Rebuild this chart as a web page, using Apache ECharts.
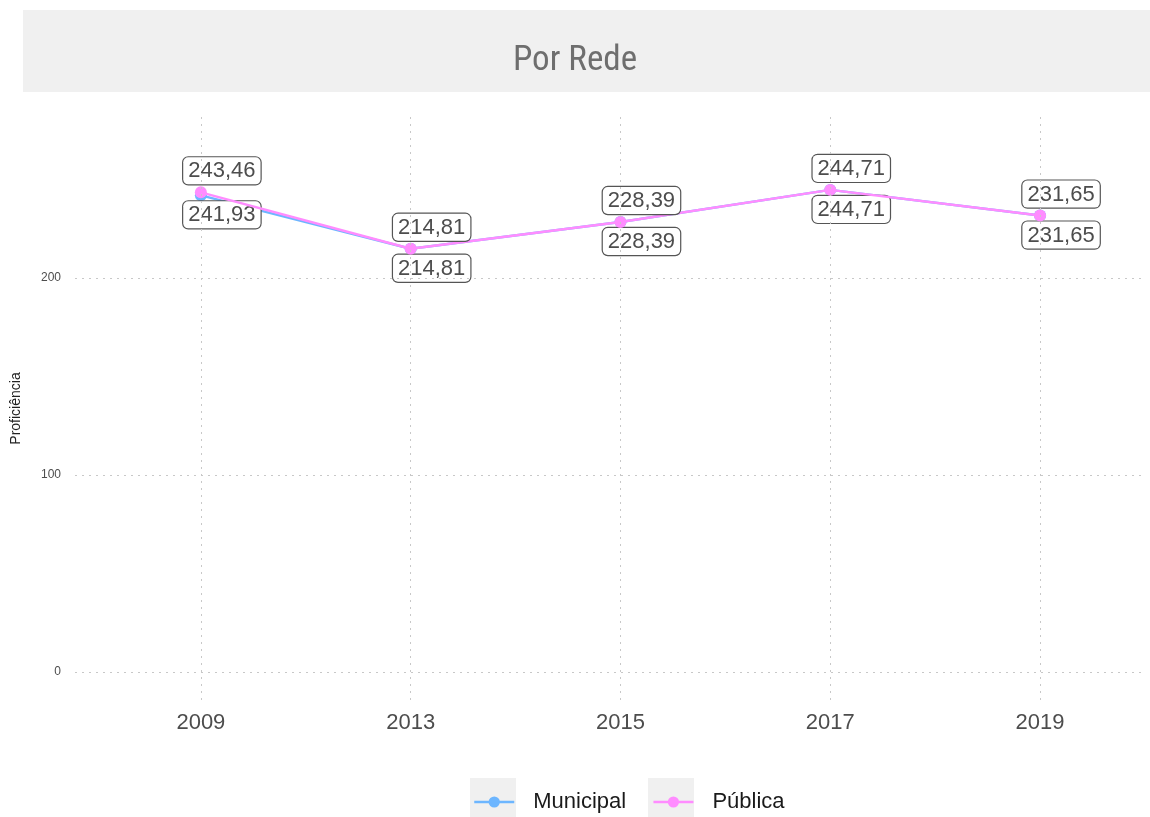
<!DOCTYPE html>
<html>
<head>
<meta charset="utf-8">
<script src="https://cdn.jsdelivr.net/npm/echarts@6/dist/echarts.min.js"></script>
<style>
html, body { margin: 0; padding: 0; background: #fff; }
#chart { width: 1150px; height: 817px; }
</style>
</head>
<body>
<div id="chart"></div>
<script>
var anos = ['2009', '2013', '2015', '2017', '2019']
var municipal = [241.93, 214.81, 228.39, 244.71, 231.65]
var publica = [243.46, 214.81, 228.39, 244.71, 231.65]
var yTicks = [0, 100, 200]

function pontos(vals)
{
    var out = []
    for (var i = 0; i < vals.length; i++)
    {
        out.push([i, vals[i]])
    }
    return out
}

function fmt(v)
{
    return v.toFixed(2).replace('.', ',')
}

var gridLine = { color: '#c8c8c8', type: [2, 5], width: 1 }

var vLines = []
for (var i = 0; i < anos.length; i++) vLines.push({ xAxis: i })
var hLines = []
for (var j = 0; j < yTicks.length; j++) hLines.push({ yAxis: yTicks[j] })

function rotulo(pos, dist)
{
    return {
        show: true,
        position: pos,
        distance: dist,
        offset: [21, 0],
        formatter: function (p) { return fmt(p.value[1]) },
        fontFamily: 'Liberation Sans, Arial, sans-serif',
        fontSize: 22,
        color: '#4d4d4d',
        backgroundColor: '#fff',
        borderColor: '#555',
        borderWidth: 1.2,
        borderRadius: 5,
        padding: [3, 5, 2, 5]
    }
}

var myChart = echarts.init(document.getElementById('chart'))
var option = {
    animation: false,
    backgroundColor: '#fff',
    title: {
        text: 'Por Rede',
        left: 'center',
        top: 39,
        textStyle: {
            fontFamily: 'Liberation Sans Narrow, Roboto Condensed, Liberation Sans, sans-serif',
            fontWeight: 'normal',
            fontSize: 35,
            color: '#6e6e6e'
        }
    },
    graphic: [
        { type: 'rect', z: -1, shape: { x: 23, y: 10, width: 1127, height: 82 }, style: { fill: '#f0f0f0' } },
        { type: 'rect', z: -1, shape: { x: 470, y: 778, width: 46, height: 39 }, style: { fill: '#f0f0f0' } },
        { type: 'rect', z: -1, shape: { x: 648, y: 778, width: 46, height: 39 }, style: { fill: '#f0f0f0' } }
    ],
    legend: {
        data: ['Municipal', 'Pública'],
        left: 468,
        top: 786,
        itemWidth: 40,
        itemHeight: 14,
        itemGap: 26,
        lineStyle: { width: 2.5 },
        textStyle: {
            fontFamily: 'Liberation Sans, Arial, sans-serif',
            fontSize: 22,
            color: '#1a1a1a',
            padding: [0, 0, 0, 14]
        }
    },
    grid: {
        left: 75,
        right: 4,
        top: 117,
        bottom: 117
    },
    xAxis: {
        type: 'value',
        min: -0.6,
        max: 4.505,
        axisLine: { show: false },
        axisTick: { show: false },
        splitLine: { show: false },
        axisLabel: {
            customValues: [0, 1, 2, 3, 4],
            formatter: function (v) { return anos[Math.round(v)] },
            margin: 12,
            fontFamily: 'Liberation Sans, Arial, sans-serif',
            fontSize: 22,
            color: '#4d4d4d'
        }
    },
    yAxis: {
        type: 'value',
        min: -14.2,
        max: 281.7,
        name: 'Proficiência',
        nameLocation: 'middle',
        nameGap: 52,
        nameTextStyle: {
            fontFamily: 'Liberation Sans, Arial, sans-serif',
            fontSize: 14,
            color: '#222'
        },
        axisLine: { show: false },
        axisTick: { show: false },
        splitLine: { show: false },
        axisLabel: {
            customValues: yTicks,
            margin: 14,
            fontFamily: 'Liberation Sans, Arial, sans-serif',
            fontSize: 12,
            color: '#4d4d4d'
        }
    },
    series: [
        {
            name: 'grade',
            type: 'line',
            data: [],
            silent: true,
            markLine: {
                silent: true,
                symbol: 'none',
                label: { show: false },
                lineStyle: gridLine,
                data: vLines.concat(hLines)
            }
        },
        {
            name: 'Municipal',
            type: 'line',
            data: pontos(municipal),
            color: '#6db6ff',
            lineStyle: { width: 2.5 },
            symbol: 'circle',
            symbolSize: 12,
            label: rotulo('bottom', 0),
            z: 3
        },
        {
            name: 'Pública',
            type: 'line',
            data: pontos(publica),
            color: '#ff8cff',
            lineStyle: { width: 2.5 },
            symbol: 'circle',
            symbolSize: 12,
            label: rotulo('top', 2),
            z: 4
        }
    ]
};
myChart.setOption(option);
</script>
</body>
</html>
